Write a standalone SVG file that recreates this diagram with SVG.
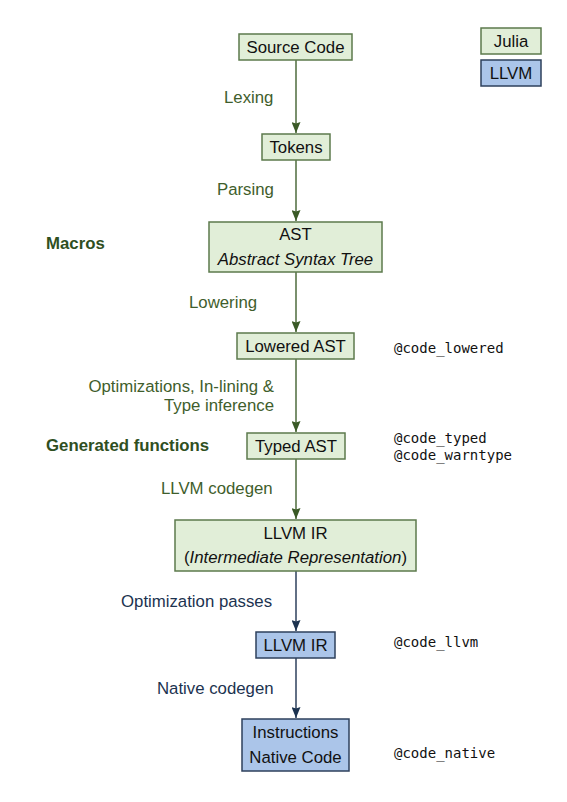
<svg xmlns="http://www.w3.org/2000/svg" width="567" height="802" viewBox="0 0 567 802">
<style>
.g{fill:#e1eed8;stroke:#5c7a4c;stroke-width:1.5}
.b{fill:#abc5e9;stroke:#2e405c;stroke-width:1.5}
.t{font-family:"Liberation Sans",Arial,sans-serif;font-size:16.8px;fill:#111;text-anchor:middle}
.i{font-style:italic}
.lg{font-family:"Liberation Sans",Arial,sans-serif;font-size:16.8px;fill:#3f5e2c}
.lb{font-family:"Liberation Sans",Arial,sans-serif;font-size:16.8px;fill:#1c3350}
.h{font-family:"Liberation Sans",Arial,sans-serif;font-size:16.8px;font-weight:bold;fill:#2f4f1f}
.m{font-family:"DejaVu Sans Mono",monospace;font-size:14px;fill:#111}
.cg{stroke:#4e6b3c;stroke-width:1.5;fill:none}
.cb{stroke:#2e405c;stroke-width:1.5;fill:none}
</style>
<defs>
<marker id="ag" markerWidth="9" markerHeight="11" refX="4.5" refY="11" markerUnits="userSpaceOnUse" viewBox="0 0 9 11"><path d="M0,0 L4.5,11 L9,0 L4.5,1.5 Z" fill="#3a5a26"/></marker>
<marker id="ab" markerWidth="9" markerHeight="11" refX="4.5" refY="11" markerUnits="userSpaceOnUse" viewBox="0 0 9 11"><path d="M0,0 L4.5,11 L9,0 L4.5,1.5 Z" fill="#1c3350"/></marker>
</defs>
<g id="connectors">
<line class="cg" x1="296" y1="60" x2="296" y2="133" marker-end="url(#ag)"/>
<line class="cg" x1="296" y1="160" x2="296" y2="221" marker-end="url(#ag)"/>
<line class="cg" x1="296" y1="272" x2="296" y2="332" marker-end="url(#ag)"/>
<line class="cg" x1="296" y1="359" x2="296" y2="432" marker-end="url(#ag)"/>
<line class="cg" x1="296" y1="459" x2="296" y2="519" marker-end="url(#ag)"/>
<line class="cb" x1="296" y1="571" x2="296" y2="631" marker-end="url(#ab)"/>
<line class="cb" x1="296" y1="658" x2="296" y2="718" marker-end="url(#ab)"/>
</g>
<g id="labels">
<text class="lg" x="224" y="103">Lexing</text>
<text class="lg" x="217" y="195">Parsing</text>
<text class="lg" x="189" y="308">Lowering</text>
<text class="lg" x="274" y="392" text-anchor="end">Optimizations, In-lining &amp;</text>
<text class="lg" x="274" y="411" text-anchor="end">Type inference</text>
<text class="lg" x="161" y="494">LLVM codegen</text>
<text class="lb" x="121" y="607">Optimization passes</text>
<text class="lb" x="157" y="694">Native codegen</text>
<text class="h" x="46" y="249">Macros</text>
<text class="h" x="46" y="451">Generated functions</text>
<text class="m" x="394" y="353">@code_lowered</text>
<text class="m" x="394" y="443">@code_typed</text>
<text class="m" x="394" y="460">@code_warntype</text>
<text class="m" x="394" y="647">@code_llvm</text>
<text class="m" x="394" y="758">@code_native</text>
</g>
<g id="source"><rect class="g" x="239" y="34" width="113" height="26"/><text class="t" x="295.5" y="53">Source Code</text></g>
<g id="tokens"><rect class="g" x="262" y="134" width="68" height="26"/><text class="t" x="296" y="153">Tokens</text></g>
<g id="ast"><rect class="g" x="209" y="222" width="173" height="50"/><text class="t" x="295.5" y="240">AST</text><text class="t i" x="295.5" y="265">Abstract Syntax Tree</text></g>
<g id="lowered"><rect class="g" x="237" y="333" width="117" height="26"/><text class="t" x="295.5" y="352">Lowered AST</text></g>
<g id="typed"><rect class="g" x="247" y="433" width="98" height="26"/><text class="t" x="296" y="452">Typed AST</text></g>
<g id="llvmir1"><rect class="g" x="175" y="520" width="241" height="51"/><text class="t" x="295.5" y="539">LLVM IR</text><text class="t" x="295.5" y="563">(<tspan class="i">Intermediate Representation</tspan>)</text></g>
<g id="llvmir2"><rect class="b" x="256" y="632" width="79" height="26"/><text class="t" x="295.5" y="651">LLVM IR</text></g>
<g id="native"><rect class="b" x="242" y="719" width="107" height="52"/><text class="t" x="295.5" y="738">Instructions</text><text class="t" x="295.5" y="763">Native Code</text></g>
<g id="legend-julia"><rect class="g" x="481" y="28" width="60" height="26"/><text class="t" x="511" y="47">Julia</text></g>
<g id="legend-llvm"><rect class="b" x="481" y="60" width="60" height="26"/><text class="t" x="511" y="79">LLVM</text></g>
</svg>
